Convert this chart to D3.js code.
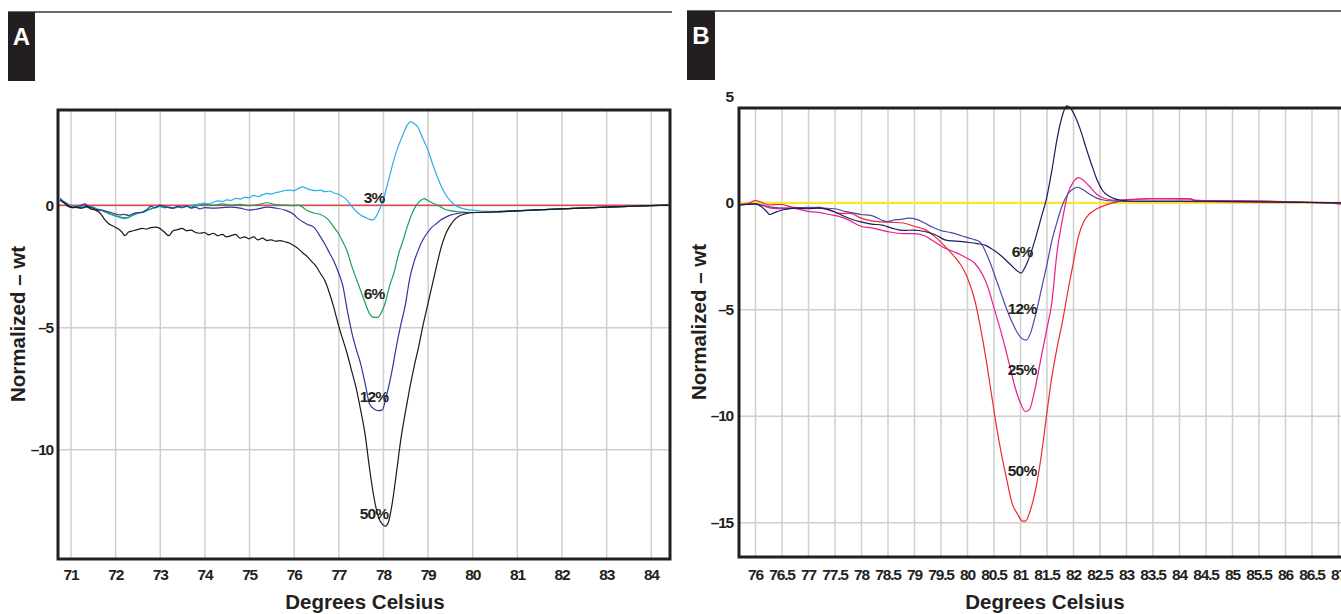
<!DOCTYPE html>
<html>
<head>
<meta charset="utf-8">
<script src="https://cdn.jsdelivr.net/npm/d3@7"></script>
<style>
  body { margin: 0; background: #fff; }
  svg { display: block; font-family: "Liberation Sans", Arial, sans-serif; }
  .tick text { font-weight: bold; font-size: 15.5px; letter-spacing: -1.2px; fill: #231f20; }
  .title { font-weight: bold; font-size: 20.5px; fill: #231f20; }
  .pct { font-weight: bold; font-size: 15.5px; fill: #231f20; letter-spacing: -0.8px; }
</style>
</head>
<body>
<svg id="chart" width="1341" height="614"></svg>
<script>
// ---- Panel A data: temperature (°C), normalized - wt ----
var aTicksX = [71, 72, 73, 74, 75, 76, 77, 78, 79, 80, 81, 82, 83, 84]
var aTicksY = [0, -5, -10]
var a3 = [[70.77,0.3],[70.85,0.15],[70.95,0.05],[71.05,-0.05],[71.15,-0.02],[71.3,-0.08],[71.45,-0.05],[71.6,-0.15],[71.75,-0.25],[71.9,-0.38],[72,-0.45],[72.1,-0.5],[72.2,-0.55],[72.3,-0.5],[72.4,-0.42],[72.5,-0.35],[72.6,-0.3],[72.7,-0.25],[72.8,-0.15],[72.9,-0.1],[73,-0.05],[73.1,-0.1],[73.2,-0.08],[73.3,-0.12],[73.4,-0.08],[73.5,-0.1],[73.6,-0.05],[73.7,-0.02],[73.8,0.02],[73.9,0.05],[74,0.08],[74.1,0.05],[74.2,0.12],[74.3,0.18],[74.4,0.15],[74.5,0.22],[74.6,0.2],[74.7,0.28],[74.8,0.25],[74.9,0.32],[75,0.3],[75.1,0.4],[75.2,0.35],[75.3,0.42],[75.4,0.48],[75.5,0.45],[75.6,0.52],[75.7,0.55],[75.8,0.6],[75.9,0.62],[76,0.6],[76.1,0.68],[76.2,0.75],[76.3,0.68],[76.4,0.62],[76.5,0.6],[76.6,0.62],[76.7,0.55],[76.8,0.58],[76.9,0.5],[77,0.45],[77.1,0.35],[77.2,0.2],[77.3,-0.05],[77.4,-0.25],[77.5,-0.4],[77.6,-0.5],[77.7,-0.58],[77.78,-0.6],[77.85,-0.45],[77.95,-0.05],[78.05,0.5],[78.15,1.2],[78.25,1.9],[78.35,2.45],[78.45,2.9],[78.55,3.3],[78.62,3.42],[78.7,3.35],[78.78,3.2],[78.9,2.7],[79,2.3],[79.1,1.75],[79.2,1.25],[79.3,0.8],[79.4,0.45],[79.5,0.2],[79.6,0.02],[79.7,-0.08],[79.8,-0.14],[79.9,-0.18],[80,-0.2],[80.2,-0.24],[80.5,-0.25],[81,-0.22],[82,-0.15],[83,-0.08],[84,-0.02],[84.4,0]]
var a6 = [[70.77,0.2],[70.9,0.1],[71,-0.05],[71.1,-0.08],[71.2,-0.12],[71.3,-0.1],[71.4,-0.08],[71.5,-0.1],[71.6,-0.2],[71.7,-0.22],[71.8,-0.3],[71.9,-0.35],[72,-0.42],[72.1,-0.48],[72.2,-0.52],[72.3,-0.5],[72.4,-0.38],[72.5,-0.32],[72.6,-0.28],[72.7,-0.2],[72.8,-0.15],[72.9,-0.1],[73,-0.05],[73.1,-0.1],[73.2,-0.08],[73.3,-0.12],[73.4,-0.06],[73.5,-0.1],[73.6,-0.05],[73.7,-0.08],[73.8,-0.02],[73.9,0],[74,0.02],[74.2,0],[74.4,0.05],[74.6,0],[74.8,0.03],[75,-0.02],[75.2,0.02],[75.4,0.1],[75.6,0.02],[75.8,0],[76,-0.02],[76.1,0],[76.2,-0.08],[76.3,-0.22],[76.45,-0.32],[76.6,-0.38],[76.75,-0.55],[76.9,-0.9],[77,-1.15],[77.1,-1.5],[77.2,-1.9],[77.3,-2.5],[77.4,-3],[77.5,-3.5],[77.6,-4],[77.7,-4.45],[77.8,-4.6],[77.88,-4.6],[77.95,-4.45],[78.05,-4],[78.15,-3.3],[78.25,-2.75],[78.35,-2],[78.45,-1.45],[78.55,-0.85],[78.65,-0.35],[78.75,0],[78.85,0.2],[78.92,0.27],[79,0.2],[79.1,0.1],[79.2,0.02],[79.3,-0.08],[79.4,-0.18],[79.5,-0.22],[79.7,-0.27],[80,-0.3],[80.5,-0.28],[81,-0.23],[82,-0.15],[83,-0.08],[84,-0.02],[84.4,0]]
var a12 = [[70.77,0.25],[70.85,0.12],[70.95,0],[71.05,-0.1],[71.15,-0.05],[71.25,0],[71.32,0.05],[71.4,-0.05],[71.5,-0.12],[71.6,-0.18],[71.7,-0.2],[71.8,-0.25],[71.9,-0.3],[72,-0.35],[72.1,-0.4],[72.2,-0.38],[72.3,-0.42],[72.4,-0.35],[72.5,-0.3],[72.6,-0.3],[72.7,-0.2],[72.8,-0.05],[72.9,-0.1],[73,0],[73.1,-0.05],[73.2,-0.1],[73.3,-0.12],[73.4,-0.05],[73.5,-0.08],[73.6,-0.03],[73.7,-0.12],[73.8,-0.08],[73.9,-0.15],[74,-0.1],[74.2,-0.12],[74.4,-0.1],[74.6,-0.08],[74.8,-0.12],[75,-0.2],[75.2,-0.15],[75.4,-0.08],[75.6,-0.12],[75.8,-0.2],[76,-0.38],[76.1,-0.55],[76.2,-0.68],[76.3,-0.78],[76.45,-0.9],[76.6,-1.3],[76.7,-1.6],[76.8,-1.95],[76.9,-2.3],[77,-2.75],[77.1,-3.3],[77.2,-4.3],[77.3,-5.2],[77.4,-5.9],[77.5,-6.5],[77.6,-7.3],[77.7,-8.15],[77.8,-8.35],[77.9,-8.42],[77.98,-8.4],[78.08,-7.8],[78.18,-7],[78.3,-5.8],[78.4,-4.9],[78.5,-4.1],[78.6,-3],[78.7,-2.3],[78.8,-1.8],[78.9,-1.4],[79,-1.12],[79.1,-0.9],[79.2,-0.75],[79.3,-0.6],[79.4,-0.5],[79.5,-0.42],[79.65,-0.35],[79.85,-0.3],[80,-0.3],[80.5,-0.27],[81,-0.23],[82,-0.15],[83,-0.08],[84,-0.02],[84.4,0]]
var a50 = [[70.77,0.2],[70.85,0.1],[70.95,-0.05],[71.05,-0.1],[71.15,-0.08],[71.25,-0.12],[71.35,-0.05],[71.45,-0.15],[71.55,-0.2],[71.65,-0.3],[71.75,-0.55],[71.85,-0.75],[71.95,-0.85],[72.05,-0.95],[72.15,-1.1],[72.22,-1.25],[72.3,-1.1],[72.4,-1.05],[72.5,-1],[72.6,-0.95],[72.7,-0.98],[72.8,-0.92],[72.9,-0.9],[73,-0.95],[73.1,-1.1],[73.2,-1.25],[73.3,-1.05],[73.4,-1],[73.5,-0.95],[73.6,-1.05],[73.7,-1.02],[73.8,-1.12],[73.9,-1.15],[74,-1.12],[74.1,-1.22],[74.2,-1.15],[74.3,-1.25],[74.4,-1.2],[74.5,-1.3],[74.6,-1.25],[74.7,-1.2],[74.8,-1.35],[74.9,-1.3],[75,-1.38],[75.1,-1.3],[75.2,-1.42],[75.3,-1.35],[75.4,-1.45],[75.5,-1.42],[75.6,-1.48],[75.7,-1.45],[75.8,-1.5],[75.9,-1.55],[76,-1.65],[76.1,-1.78],[76.2,-1.95],[76.3,-2.1],[76.4,-2.3],[76.5,-2.5],[76.6,-2.8],[76.7,-3.1],[76.8,-3.6],[76.9,-4.2],[77,-4.9],[77.1,-5.5],[77.2,-6.1],[77.3,-6.8],[77.4,-7.5],[77.5,-8.4],[77.6,-9.4],[77.7,-10.8],[77.8,-12],[77.9,-12.8],[78,-13.1],[78.05,-13.15],[78.12,-13],[78.2,-12.3],[78.3,-11],[78.4,-9.6],[78.5,-8.5],[78.6,-7.5],[78.7,-6.6],[78.8,-5.8],[78.9,-4.9],[79,-4.1],[79.1,-3.3],[79.2,-2.5],[79.3,-1.75],[79.4,-1.2],[79.5,-0.85],[79.6,-0.6],[79.7,-0.45],[79.8,-0.38],[79.9,-0.33],[80,-0.31],[80.5,-0.28],[81,-0.23],[82,-0.15],[83,-0.08],[84,-0.02],[84.4,0]]
var aLabels = [["3%", 77.8, 0.33], ["6%", 77.8, -3.6], ["12%", 77.8, -7.83], ["50%", 77.8, -12.62]]

// ---- Panel B data ----
var bTicksX = [76, 76.5, 77, 77.5, 78, 78.5, 79, 79.5, 80, 80.5, 81, 81.5, 82, 82.5, 83, 83.5, 84, 84.5, 85, 85.5, 86, 86.5, 87]
var bTicksY = [5, 0, -5, -10, -15]
var bGridY = [0, -5, -10, -15]
var b6 = [[75.72,-0.1],[75.85,-0.08],[76,-0.05],[76.1,-0.15],[76.2,-0.35],[76.28,-0.55],[76.38,-0.45],[76.5,-0.35],[76.6,-0.3],[76.75,-0.25],[77,-0.28],[77.2,-0.25],[77.35,-0.3],[77.5,-0.42],[77.65,-0.6],[77.8,-0.75],[78,-0.9],[78.2,-1],[78.4,-1.05],[78.6,-1.2],[78.8,-1.3],[79,-1.28],[79.2,-1.35],[79.4,-1.5],[79.6,-1.75],[79.8,-1.8],[80,-1.85],[80.2,-1.92],[80.35,-2],[80.5,-2.22],[80.65,-2.5],[80.8,-2.85],[80.95,-3.2],[81.02,-3.3],[81.1,-3],[81.2,-2.4],[81.3,-1.6],[81.4,-0.7],[81.5,0.2],[81.6,1.5],[81.7,3],[81.8,4.1],[81.88,4.55],[81.95,4.45],[82.05,4],[82.15,3.35],[82.25,2.55],[82.35,1.8],[82.45,1.1],[82.55,0.6],[82.7,0.28],[82.9,0.12],[83.2,0.08],[84,0.08],[85,0.06],[86,0.03],[87,0],[87.3,-0.02]]
var b12 = [[75.72,-0.08],[76,-0.05],[76.3,-0.2],[76.6,-0.25],[77,-0.22],[77.3,-0.25],[77.5,-0.28],[77.7,-0.4],[78,-0.55],[78.2,-0.6],[78.4,-0.82],[78.5,-0.88],[78.6,-0.82],[78.75,-0.78],[78.9,-0.72],[79.05,-0.78],[79.2,-0.95],[79.35,-1.15],[79.5,-1.3],[79.7,-1.4],[79.9,-1.55],[80.1,-1.7],[80.25,-1.85],[80.35,-2.3],[80.45,-2.9],[80.55,-3.6],[80.65,-4.3],[80.75,-5],[80.85,-5.6],[80.95,-6.1],[81.05,-6.4],[81.12,-6.45],[81.2,-6.1],[81.3,-5.2],[81.4,-4.1],[81.5,-3],[81.6,-1.8],[81.7,-0.9],[81.8,-0.1],[81.9,0.4],[82,0.65],[82.08,0.73],[82.2,0.6],[82.3,0.42],[82.45,0.22],[82.6,0.12],[82.8,0.08],[83,0.06],[84,0.06],[85,0.04],[86,0.02],[87,0],[87.3,-0.02]]
var b25 = [[75.72,-0.1],[76,-0.05],[76.3,-0.25],[76.5,-0.28],[76.7,-0.25],[77,-0.4],[77.2,-0.45],[77.4,-0.55],[77.6,-0.65],[77.8,-0.85],[78,-1.1],[78.2,-1.18],[78.5,-1.35],[78.8,-1.45],[79,-1.45],[79.2,-1.55],[79.4,-1.85],[79.6,-2.15],[79.8,-2.35],[80,-2.6],[80.15,-2.85],[80.3,-3.4],[80.4,-4],[80.5,-4.85],[80.6,-5.7],[80.7,-6.6],[80.8,-7.6],[80.9,-8.6],[81,-9.35],[81.1,-9.8],[81.18,-9.7],[81.26,-9],[81.35,-7.9],[81.42,-7],[81.5,-6],[81.6,-4.7],[81.7,-2.3],[81.8,-0.8],[81.9,0.4],[82,0.95],[82.1,1.18],[82.2,1.05],[82.3,0.8],[82.45,0.4],[82.6,0.2],[82.8,0.12],[83,0.15],[83.5,0.18],[84.2,0.17],[84.3,0.12],[85,0.1],[86,0.05],[87,0],[87.3,-0.05]]
var b50 = [[75.72,-0.08],[75.9,0],[76,0.1],[76.1,0.05],[76.25,-0.1],[76.5,-0.08],[76.7,-0.2],[77,-0.25],[77.2,-0.2],[77.4,-0.35],[77.6,-0.5],[77.8,-0.5],[78,-0.72],[78.2,-0.85],[78.4,-0.9],[78.6,-0.92],[78.8,-0.95],[79,-1.1],[79.2,-1.25],[79.4,-1.6],[79.55,-1.95],[79.7,-2.35],[79.85,-2.8],[79.95,-3.2],[80.05,-3.8],[80.15,-4.6],[80.25,-5.8],[80.35,-7.2],[80.45,-8.8],[80.55,-10.4],[80.65,-11.8],[80.75,-13],[80.85,-14.1],[80.95,-14.6],[81.05,-14.95],[81.1,-14.95],[81.2,-14.4],[81.3,-13.4],[81.4,-11.9],[81.5,-10],[81.6,-8.2],[81.7,-6.8],[81.8,-5.6],[81.9,-4.2],[82,-2.9],[82.1,-1.6],[82.2,-0.9],[82.3,-0.55],[82.45,-0.28],[82.6,-0.12],[82.8,0.02],[83,0.12],[83.5,0.2],[84.2,0.2],[84.3,0.12],[85,0.1],[86,0.05],[87,-0.05],[87.3,-0.1]]
var bLabels = [["6%", 81.04, -2.3], ["12%", 81.04, -4.95], ["25%", 81.04, -7.8], ["50%", 81.04, -12.55]]

var svg = d3.select("#chart")

//Panel header: black letter box and a rule
function header(x0, x1, y, letter, boxW, boxH){
    svg.append("line")
        .attr("x1", x0).attr("x2", x1).attr("y1", y).attr("y2", y)
        .attr("stroke", "#3a3a3a").attr("stroke-width", 1.5)
    svg.append("rect")
        .attr("x", x0).attr("y", y).attr("width", boxW).attr("height", boxH)
        .attr("fill", "#231f20")
    svg.append("text")
        .attr("x", x0 + boxW / 2).attr("y", y + 33)
        .attr("text-anchor", "middle")
        .attr("font-weight", "bold").attr("font-size", 24)
        .attr("fill", "#fff")
        .text(letter)
}

function panel(p){
    var x = d3.scaleLinear().domain(p.xDomain).range([p.left, p.right])
    var y = d3.scaleLinear().domain(p.yDomain).range([p.bottom, p.top])
    var g = svg.append("g")
    var h = p.bottom - p.top
    var w = p.right - p.left

    //grid
    g.append("g")
        .attr("transform", `translate(0,${p.bottom})`)
        .call(d3.axisBottom(x).tickValues(p.ticksX).tickSize(-h).tickFormat(""))
        .call(s => s.select(".domain").remove())
        .selectAll("line").attr("stroke", "#cfcfcf").attr("stroke-width", 1.5)
    g.append("g")
        .attr("transform", `translate(${p.left},0)`)
        .call(d3.axisLeft(y).tickValues(p.gridY).tickSize(-w).tickFormat(""))
        .call(s => s.select(".domain").remove())
        .selectAll("line").attr("stroke", "#cfcfcf").attr("stroke-width", 1.5)

    //baseline
    g.append("line")
        .attr("x1", p.left).attr("x2", p.right)
        .attr("y1", y(0)).attr("y2", y(0))
        .attr("stroke", p.baseColor).attr("stroke-width", p.baseWidth)

    var line = d3.line()
        .x(d => x(d[0]))
        .y(d => y(d[1]))
        .curve(d3.curveMonotoneX)

    p.series.forEach(s => {
        g.append("path")
            .datum(s.data)
            .attr("fill", "none")
            .attr("stroke", s.color)
            .attr("stroke-width", 1.2)
            .attr("d", line)
    })

    //frame
    g.append("rect")
        .attr("x", p.left).attr("y", p.top)
        .attr("width", w).attr("height", h)
        .attr("fill", "none").attr("stroke", "#231f20").attr("stroke-width", 3)

    //tick labels
    g.append("g")
        .attr("transform", `translate(0,${p.bottom})`)
        .call(d3.axisBottom(x).tickValues(p.ticksX).tickSize(0).tickPadding(p.padX).tickFormat(d => d))
        .call(s => s.select(".domain").remove())
    g.append("g")
        .attr("transform", `translate(${p.left},0)`)
        .call(d3.axisLeft(y).tickValues(p.ticksY).tickSize(0).tickPadding(p.padY).tickFormat(d => d < 0 ? "\u2013" + (-d) : d))
        .call(s => s.select(".domain").remove())
    g.selectAll(".tick text").attr("font-family", null).attr("font-size", null)

    //percent labels
    g.selectAll(".pct")
        .data(p.labels)
        .enter()
        .append("text")
        .classed("pct", true)
        .attr("x", d => x(d[1]))
        .attr("y", d => y(d[2]))
        .attr("dy", "0.36em")
        .attr("text-anchor", "middle")
        .text(d => d[0])

    //axis titles
    svg.append("text")
        .classed("title", true)
        .attr("x", p.titleX).attr("y", 609)
        .attr("text-anchor", "middle")
        .text("Degrees Celsius")
    svg.append("text")
        .classed("title", true)
        .attr("transform", `translate(${p.yTitleX},${p.yTitleY}) rotate(-90)`)
        .attr("text-anchor", "middle")
        .text("Normalized \u2013 wt")
}

header(8, 672, 12, "A", 27, 69)
header(687, 1341, 11, "B", 28, 69)

panel({
    left: 58, right: 670, top: 110, bottom: 559,
    xDomain: [70.72, 84.43], yDomain: [-14.5, 3.9],
    ticksX: aTicksX, ticksY: aTicksY, gridY: aTicksY,
    padX: 10, padY: 5,
    baseColor: "#e0474c", baseWidth: 1.5,
    series: [
        {data: a3, color: "#29aee6"},
        {data: a6, color: "#1f9e5a"},
        {data: a12, color: "#34349e"},
        {data: a50, color: "#1a1a1a"}
    ],
    labels: aLabels,
    titleX: 365, yTitleX: 25, yTitleY: 324
})

panel({
    left: 739, right: 1356, top: 108, bottom: 557,
    xDomain: [75.698, 87.34], yDomain: [-16.63, 4.45],
    ticksX: bTicksX, ticksY: bTicksY, gridY: bGridY,
    padX: 12, padY: 6,
    baseColor: "#ffe81a", baseWidth: 2,
    series: [
        {data: b50, color: "#f0282d"},
        {data: b25, color: "#ec1c8c"},
        {data: b12, color: "#4a4aa8"},
        {data: b6, color: "#1c1a5e"}
    ],
    labels: bLabels,
    titleX: 1045, yTitleX: 706, yTitleY: 322
})
</script>
</body>
</html>
